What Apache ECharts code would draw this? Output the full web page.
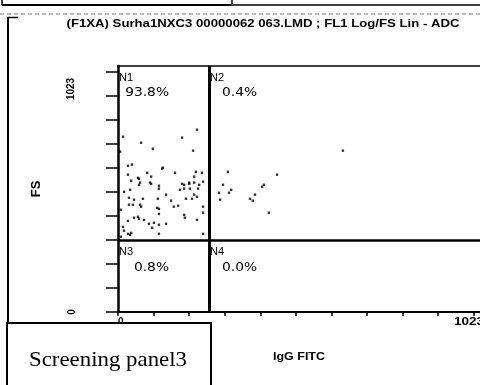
<!DOCTYPE html>
<html><head><meta charset="utf-8">
<script src="https://cdn.jsdelivr.net/npm/echarts@6/dist/echarts.min.js"></script>
<style>html,body{margin:0;padding:0;background:#fff;}#c{width:480px;height:385px;}</style>
</head><body><div id="c"></div>
<script>
// ---- data ----
const titleText = "(F1XA) Surha1NXC3 00000062 063.LMD ; FL1 Log/FS Lin - ADC";
const xAxisName = "IgG FITC";
const yAxisName = "FS";
const panelLabel = "Screening panel3";
const xTickValues = [0, 100, 200, 300, 400, 500, 600, 700, 800, 900, 1000];
const yTickValues = [0, 100, 200, 300, 400, 500, 600, 700, 800, 900, 1000];
const xLabelValues = [0, 1023];
const yLabelValues = [0, 1023];
const gateX = 256;
const gateY = 297;
const quadrantNames = ["N1", "N2", "N3", "N4"];
const quadrantPercents = ["93.8%", "0.4%", "0.8%", "0.0%"];
const eventsX = [14,65,98,6,28,39,124,82,28,56,59,93,37,62,90,222,180,211,126,160,219,236,214,200,214,239,180,
  17,34,59,93,115,115,31,45,70,112,31,42,62,65,110,115,115,8,45,56,59,28,73,87,101,115,14,96,17,28,37,34,115,8,
  186,200,228,174,186,202,225,135,214,191,208,222,149,157,169,239,239,186,188,222,135,239,
  632,309,447,295,410,405,318,312,284,385,371,379,287,424];
const eventsY = [729,704,679,667,608,613,596,579,571,558,554,563,546,538,538,758,725,671,600,579,583,579,563,538,538,542,533,
  500,508,529,533,525,513,475,467,471,471,446,446,446,438,433,429,408,425,392,396,388,379,383,367,371,363,354,350,338,325,329,321,325,313,
  529,533,529,508,513,513,513,488,488,471,471,479,463,438,442,438,413,404,392,383,367,325,
  671,583,571,529,529,521,508,496,496,488,471,463,467,413];

// ---- chart ----
const chart = echarts.init(document.getElementById('c'), null, {renderer: 'canvas'});
const axisCommon = {
  type: 'value', min: 0, max: 1023, interval: 100,
  axisLabel: {show: false}, splitLine: {show: false}
};
chart.setOption({
  animation: false,
  backgroundColor: '#fff',
  grid: {left: 118, top: 66, width: 364, height: 246, show: false, containLabel: false, outerBoundsMode: 'none'},
  xAxis: [
    Object.assign({}, axisCommon, {
      position: 'bottom',
      axisLine: {show: true, onZero: false, lineStyle: {color: '#000', width: 2}},
      axisTick: {show: true, length: 4, customValues: xTickValues, lineStyle: {color: '#000', width: 1.5}}
    }),
    Object.assign({}, axisCommon, {
      position: 'top',
      axisLine: {show: true, onZero: false, lineStyle: {color: '#000', width: 1.5}},
      axisTick: {show: false}
    })
  ],
  yAxis: Object.assign({}, axisCommon, {
    axisLine: {show: true, onZero: false, lineStyle: {color: '#000', width: 2.5}},
    axisTick: {show: true, length: 12, customValues: yTickValues, lineStyle: {color: '#000', width: 1.5}}
  }),
  series: [{
    type: 'scatter', symbol: 'rect', symbolSize: 2.4, silent: true,
    itemStyle: {color: '#000'},
    data: eventsX.map((x, i) => [x, eventsY[i]]),
    markLine: {
      silent: true, symbol: 'none', label: {show: false}, animation: false,
      lineStyle: {color: '#000', width: 3, type: 'solid'},
      data: [{xAxis: gateX}, {yAxis: gateY, lineStyle: {width: 2.5}}]
    }
  }]
});

// ---- text helpers ----
const mctx = document.createElement('canvas').getContext('2d');
function measure(t, font) { mctx.font = font; return mctx.measureText(t).width; }
function txt(t, x, y, font, opts) {
  opts = opts || {};
  let sx = 1;
  if (opts.width) sx = opts.width / measure(t, font);
  return {
    type: 'text', x: x, y: y, z: opts.z || 50, rotation: opts.rotation || 0, scaleX: sx, scaleY: opts.scaleY || 1,
    style: {text: t, x: 0, y: 0, font: font, fill: '#000', align: opts.align || 'left', verticalAlign: opts.va || 'top'}
  };
}
function line(x1, y1, x2, y2, w, extra) {
  return Object.assign({type: 'line', z: 50, shape: {x1, y1, x2, y2}, style: {stroke: '#000', lineWidth: w}}, extra || {});
}
const P = v => chart.convertToPixel({xAxisIndex: 0, yAxisIndex: 0}, v);
const o = P([0, 0]), m = P([1023, 1023]), g = P([gateX, gateY]);
const SANS = "'Liberation Sans', Arial, sans-serif";
const nameFont = "11px " + SANS;
const pctFont = "12px 'DejaVu Sans', sans-serif";
const qLeft = [o[0], g[0], o[0], g[0]];
const qTop = [m[1], m[1], g[1], g[1]];
const pctRight = [o[0] + 51, g[0] + 48, o[0] + 51, g[0] + 48];

const els = [
  // scanned page decorations
  line(2, 0, 2, 5, 1.5), line(2, 5, 231, 5, 2), line(232, 0, 232, 6, 1.5), line(233, 5, 480, 5, 1.5),
  line(0, 14, 480, 14, 1, {style: {stroke: '#777', lineWidth: 1, lineDash: [4, 3]}}),
  line(8, 17, 8, 385, 2), line(8, 17.5, 18, 17.5, 1.5),
  txt(titleText, 263, 24, "bold 10px " + SANS, {align: 'center', va: 'middle', width: 393}),
  // y-axis texts
  txt(String(yLabelValues[1]), 71, m[1] + 23, "bold 10px " + SANS, {align: 'center', va: 'middle', rotation: Math.PI / 2}),
  txt(String(yLabelValues[0]), 72, o[1], "bold 10px " + SANS, {align: 'center', va: 'middle', rotation: Math.PI / 2}),
  txt(yAxisName, 36, (o[1] + m[1]) / 2, "bold 13px " + SANS, {align: 'center', va: 'middle', rotation: Math.PI / 2}),
  // x-axis texts
  txt(String(xLabelValues[0]), o[0], o[1] + 5, "bold 10px " + SANS, {align: 'left', va: 'top'}),
  txt(String(xLabelValues[1]), m[0] + 2, o[1] + 4, "bold 11px " + SANS, {align: 'right', va: 'top', width: 30}),
  txt(xAxisName, 299, 357.5, "bold 10px " + SANS, {align: 'center', va: 'middle', width: 52}),
  // panel label box
  {type: 'rect', z: 90, shape: {x: 7, y: 323, width: 204, height: 70}, style: {fill: '#fff', stroke: '#000', lineWidth: 2}},
  txt(panelLabel, 29, 360, "21px 'Liberation Serif', 'Times New Roman', serif", {align: 'left', va: 'middle', width: 158, z: 95})
];
for (let i = 0; i < 4; i++) {
  els.push(txt(quadrantNames[i], qLeft[i] + 1, qTop[i] + 6, nameFont, {va: 'top'}));
  els.push(txt(quadrantPercents[i], pctRight[i], qTop[i] + 21, pctFont, {align: 'right', va: 'top', width: measure(quadrantPercents[i], pctFont) * 1.15}));
}
chart.setOption({graphic: {elements: els}});
</script>
</body></html>
